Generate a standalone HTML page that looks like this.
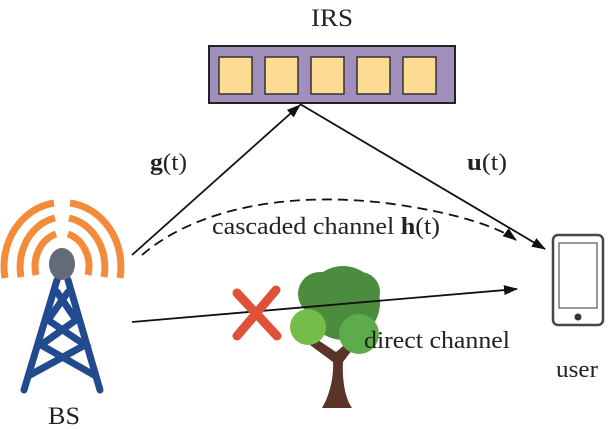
<!DOCTYPE html>
<html><head><style>html,body{margin:0;padding:0;background:#fff}svg{display:block}text{font-family:"Liberation Serif",serif;fill:#222}</style></head>
<body>
<svg width="614" height="430" viewBox="0 0 614 430" xmlns="http://www.w3.org/2000/svg">
<defs>
<marker id="b" markerWidth="14" markerHeight="10" refX="13" refY="5" orient="auto" markerUnits="userSpaceOnUse"><path d="M0,0 L14,5 L0,10 z" fill="#111"/></marker>
</defs>
<text x="311" y="26" font-size="25" textLength="42" lengthAdjust="spacingAndGlyphs">IRS</text>
<rect x="209" y="46" width="246" height="57" fill="#a08fba" stroke="#222" stroke-width="2"/>
<g fill="#fddb92" stroke="#333" stroke-width="1.5">
<rect x="219" y="57" width="33" height="37"/><rect x="265" y="57" width="33" height="37"/><rect x="311" y="57" width="33" height="37"/><rect x="357" y="57" width="33" height="37"/><rect x="403" y="57" width="33" height="37"/>
</g>
<line x1="132" y1="255" x2="300" y2="105" stroke="#111" stroke-width="1.8" marker-end="url(#b)"/>
<line x1="300" y1="104" x2="545" y2="249" stroke="#111" stroke-width="1.8" marker-end="url(#b)"/>
<path d="M142,255 C200,205 300,190 400,205 C460,214 500,228 516,240" fill="none" stroke="#111" stroke-width="1.8" stroke-dasharray="10,6" marker-end="url(#b)"/>
<text x="150" y="170" font-size="24" textLength="37" lengthAdjust="spacingAndGlyphs"><tspan font-weight="bold">g</tspan>(t)</text>
<text x="467" y="170" font-size="24" textLength="40" lengthAdjust="spacingAndGlyphs"><tspan font-weight="bold">u</tspan>(t)</text>
<text x="212" y="234" font-size="24" textLength="228" lengthAdjust="spacingAndGlyphs">cascaded channel <tspan font-weight="bold">h</tspan>(t)</text>
<!-- tree -->
<path d="M322,408 C330,395 334,375 333,362 L310,345 L318,340 L336,352 L348,342 L355,346 L343,362 C342,380 345,398 352,408 Z" fill="#5a3329"/>
<circle cx="343" cy="303" r="37" fill="#4c8c3f"/>
<circle cx="320" cy="294" r="22" fill="#4c8c3f"/>
<circle cx="360" cy="292" r="20" fill="#4c8c3f"/>
<circle cx="308" cy="327" r="18" fill="#74bd48"/>
<circle cx="359" cy="334" r="20" fill="#5dab4b"/>
<line x1="132" y1="322" x2="517" y2="289" stroke="#111" stroke-width="1.8" marker-end="url(#b)"/>
<g stroke="#df5139" stroke-width="9" stroke-linecap="round">
<line x1="237" y1="293" x2="277" y2="336"/><line x1="276" y1="290" x2="237" y2="336"/>
</g>
<text x="364" y="348" font-size="24" textLength="146" lengthAdjust="spacingAndGlyphs">direct channel</text>
<!-- phone -->
<rect x="553" y="235" width="50" height="90" rx="5" fill="#fff" stroke="#3e4a53" stroke-width="2.5"/>
<rect x="559" y="243" width="38" height="65" fill="#fff" stroke="#555" stroke-width="1.2"/>
<circle cx="578" cy="317" r="3.5" fill="#333"/>
<text x="556" y="377" font-size="24" textLength="42" lengthAdjust="spacingAndGlyphs">user</text>
<!-- tower -->
<g fill="none" stroke="#f48b3b" stroke-width="7">
<path d="M36,275 A30,34 0 0 1 56,234"/><path d="M88,275 A30,34 0 0 0 68,234"/>
<path d="M21,277 A44,50 0 0 1 55,218"/><path d="M104,277 A44,50 0 0 0 69,218"/>
<path d="M5,278 A58,64 0 0 1 54,203"/><path d="M120,278 A58,64 0 0 0 70,203"/>
</g>
<g stroke="#214a8f" stroke-width="7" fill="none" stroke-linecap="round">
<path d="M57,280 L24,390 M68,280 L100,390"/>
<path d="M57,292 L76,320 L41,345 L94,375 M68,292 L48,320 L85,345 L30,375"/>
</g>
<ellipse cx="62" cy="264" rx="13" ry="16" fill="#636b78"/>
<text x="48" y="424" font-size="25" textLength="32" lengthAdjust="spacingAndGlyphs">BS</text>
</svg>
</body></html>
